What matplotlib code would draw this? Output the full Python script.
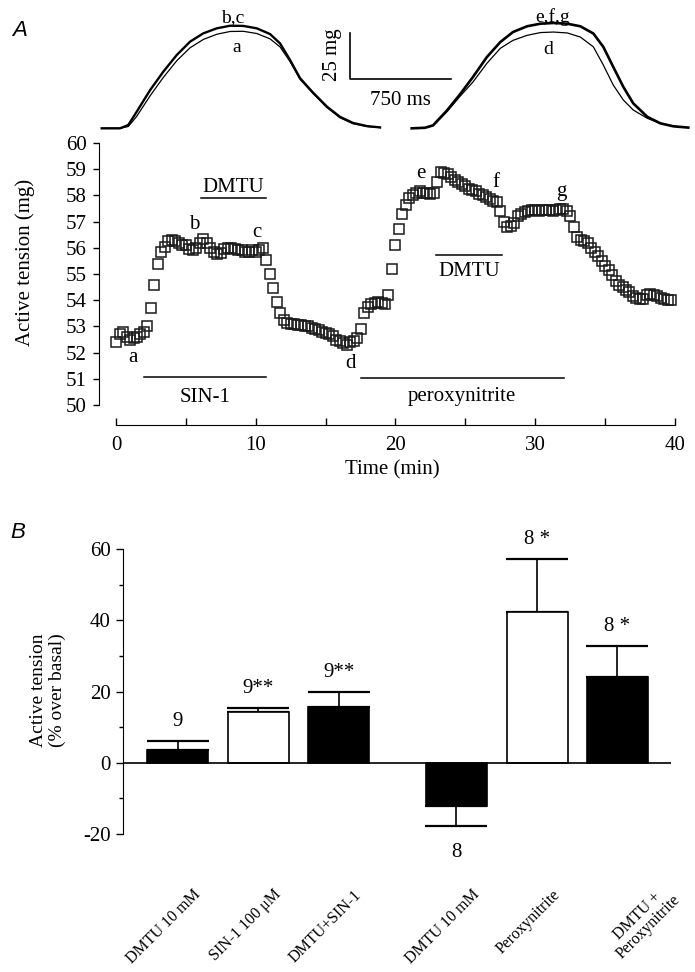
import numpy as np
import matplotlib.pyplot as plt

plt.rcParams['font.family'] = ['Liberation Serif', 'DejaVu Serif']
plt.rcParams['axes.unicode_minus'] = False

# ---- panel A, top: twitch traces (ms, mg) ----
left_t = [0, 136, 198, 261, 360, 459, 559, 658, 757, 857, 956, 1055, 1155,
          1254, 1328, 1403, 1477, 1574, 1678, 1775, 1872, 1976, 2073]
trace_bc = [0, 0, 1.8, 9.0, 20.6, 30.6, 39.6, 46.8, 51.3, 54.0, 55.4, 55.3, 54.0,
            50.9, 45.9, 36.9, 27.1, 19.3, 11.7, 6.2, 2.9, 1.2, 0.5]
trace_a = [0, 0, 1.0, 6.5, 17.5, 27.5, 36.5, 43.5, 48.0, 50.8, 52.3, 52.4, 51.2,
           48.3, 44.0, 36.0, 26.5, 18.8, 11.2, 5.7, 2.5, 1.0, 0.4]
right_t = [0, 99, 159, 263, 360, 456, 560, 660, 754, 859, 958, 1055, 1159,
           1256, 1353, 1427, 1501, 1576, 1650, 1755, 1852, 1948, 2060]
trace_efg = [0, 0.3, 1.6, 9.7, 18.4, 27.7, 38.5, 46.6, 52.0, 55.1, 56.5, 56.9, 56.5,
             55.1, 51.2, 44.0, 33.2, 22.4, 13.5, 6.2, 2.7, 1.1, 0.4]
trace_d = [0, 0.3, 1.4, 9.0, 17.3, 25.0, 35.1, 43.2, 47.5, 50.2, 51.7, 52.0, 51.5,
           49.3, 44.0, 34.2, 23.4, 15.3, 9.9, 5.4, 2.7, 1.1, 0.4]

# ---- panel A: active tension time course ----
time_min = np.arange(0, 40, 0.25)
tension_mg = [
    52.4, 52.7, 52.8, 52.6, 52.5, 52.55, 52.6, 52.7,
    52.8, 53.0, 53.7, 54.6, 55.4, 55.85, 56.05, 56.25,
    56.3, 56.25, 56.2, 56.1, 56.1, 55.95, 55.9, 56.0,
    56.2, 56.35, 56.2, 56.0, 55.85, 55.75, 55.8, 55.95,
    56.0, 56.0, 55.95, 55.9, 55.9, 55.85, 55.85, 55.9,
    55.85, 55.9, 56.0, 55.55, 55.0, 54.45, 53.95, 53.5,
    53.25, 53.15, 53.1, 53.1, 53.05, 53.05, 53.0, 53.0,
    52.95, 52.9, 52.85, 52.8, 52.75, 52.7, 52.65, 52.5,
    52.45, 52.35, 52.3, 52.4, 52.45, 52.55, 52.9, 53.5,
    53.75, 53.85, 53.9, 53.95, 53.9, 53.85, 54.2, 55.2,
    56.1, 56.7, 57.3, 57.65, 57.9, 58.0, 58.1, 58.15,
    58.1, 58.1, 58.05, 58.1, 58.5, 58.9, 58.85, 58.8,
    58.7, 58.6, 58.5, 58.45, 58.35, 58.25, 58.2, 58.15,
    58.05, 58.0, 57.95, 57.85, 57.8, 57.75, 57.4, 57.0,
    56.8, 56.85, 56.95, 57.2, 57.3, 57.35, 57.4, 57.45,
    57.45, 57.4, 57.45, 57.45, 57.45, 57.4, 57.45, 57.5,
    57.5, 57.4, 57.2, 56.8, 56.4, 56.3, 56.25, 56.2,
    56.0, 55.85, 55.7, 55.5, 55.3, 55.15, 54.95, 54.75,
    54.6, 54.5, 54.4, 54.3, 54.15, 54.1, 54.05, 54.05,
    54.2, 54.25, 54.2, 54.15, 54.1, 54.05, 54.0, 54.0,
]
point_labels = ['a', 'b', 'c', 'd', 'e', 'f', 'g']
point_t = [1.2, 5.6, 10.1, 16.8, 21.8, 27.2, 31.9]
point_y = [51.8, 56.9, 56.6, 51.6, 58.85, 58.5, 58.15]
# drug application bars: (label, start, end, line level, label level)
drugs = [('DMTU', 6.07, 10.7, 57.9, 58.3),
         ('SIN-1', 2.0, 10.7, 51.06, 50.3),
         ('peroxynitrite', 17.5, 32.05, 51.02, 50.32),
         ('DMTU', 22.9, 27.6, 55.73, 55.1)]

# ---- panel B: summary bars ----
groups = ['DMTU 10 mM', 'SIN-1 100 μM', 'DMTU+SIN-1',
          'DMTU 10 mM', 'Peroxynitrite', 'DMTU +\nPeroxynitrite']
means = np.array([3.6, 14.3, 15.7, -12.1, 42.3, 24.1])
sem = np.array([2.6, 1.1, 4.2, 5.6, 14.9, 8.7])
n_labels = ['9', '9**', '9**', '8', '8 *', '8 *']
filled = [True, False, True, True, False, True]
bar_x = [0, 1, 2, 3.46, 4.47, 5.46]

W, H = 695, 972
fig = plt.figure(figsize=(W / 100, H / 100), dpi=100)


def fx(px):
    return px / W


def fy(py):
    return 1 - py / H


# traces
axT = fig.add_axes([0, fy(140), 1, 140 / H])
axT.axis('off')
axT.set_xlim(-757.5, 4419)
axT.set_ylim(-6.3, 69.3)
shift = 2309
axT.plot(left_t, trace_a, color='black', lw=0.9)
axT.plot(left_t, trace_bc, color='black', lw=1.7)
axT.plot(np.array(right_t) + shift, trace_d, color='black', lw=0.9)
axT.plot(np.array(right_t) + shift, trace_efg, color='black', lw=1.9)
axT.plot([1849, 1849, 2599], [51.6, 26.6, 26.6], color='black', lw=1.2)
axT.text(1720, 39.5, '25 mg', rotation=90, ha='center', va='center', fontsize=15)
axT.text(2224, 15, '750 ms', ha='center', va='center', fontsize=15)
axT.text(978, 59.6, 'b,c', ha='center', va='center', fontsize=14)
axT.text(1008, 43.4, 'a', ha='center', va='center', fontsize=14)
axT.text(3361, 60.1, 'e,f,g', ha='center', va='center', fontsize=14)
axT.text(3324, 42.8, 'd', ha='center', va='center', fontsize=14)

# time course
axA = fig.add_axes([fx(99), fy(425), fx(677) - fx(99), fy(143) - fy(425)])
axA.plot(time_min, tension_mg, 's', ms=6.5, mfc='none', mec='#1a1a1a', mew=1.1)
axA.set_xlim(-1.22, 40.15)
axA.set_ylim(49.24, 60)
for side in ['top', 'right']:
    axA.spines[side].set_visible(False)
axA.spines['left'].set_bounds(50, 60)
axA.spines['bottom'].set_bounds(0, 40)
axA.set_yticks(range(50, 61))
axA.set_xticks(range(0, 41, 5))
axA.set_xticklabels([str(v) if v % 10 == 0 else '' for v in range(0, 41, 5)])
axA.tick_params(axis='y', direction='out', length=4, width=1, pad=5, labelsize=15)
axA.tick_params(axis='x', direction='in', length=5, width=1, pad=8, labelsize=15)
for lab, t, y in zip(point_labels, point_t, point_y):
    axA.text(t, y, lab, ha='center', va='center', fontsize=15)
for name, t0, t1, yl, yt in drugs:
    axA.plot([t0, t1], [yl, yl], color='black', lw=1.1)
    axA.text((t0 + t1) / 2, yt, name, ha='center', va='center', fontsize=15)

fig.text(fx(25), fy(262), 'Active tension (mg)', rotation=90,
         ha='center', va='center', fontsize=15)
fig.text(fx(392), fy(470), 'Time (min)', ha='center', va='center', fontsize=15)

# summary bars
axB = fig.add_axes([fx(123), fy(834), fx(671) - fx(123), fy(549) - fy(834)])
axB.bar(bar_x, means, width=0.76, color=['black' if f else 'white' for f in filled],
        edgecolor='black', linewidth=1.2, zorder=2)
err_low = np.where(means < 0, sem, 0)
err_high = np.where(means < 0, 0, sem)
axB.errorbar(bar_x, means, yerr=[err_low, err_high], fmt='none', ecolor='black',
             elinewidth=1.2, capsize=22, capthick=1.6, zorder=1)
axB.axhline(0, color='black', lw=1.2, zorder=3)
axB.set_xlim(-0.68, 6.13)
axB.set_ylim(-20, 60)
for side in ['top', 'right', 'bottom']:
    axB.spines[side].set_visible(False)
axB.set_yticks([-20, 0, 20, 40, 60])
axB.set_yticks([-10, 10, 30, 50], minor=True)
axB.set_xticks([])
axB.tick_params(axis='y', which='major', direction='out', length=5, width=1,
                pad=4, labelsize=15)
axB.tick_params(axis='y', which='minor', direction='out', length=3, width=1)

for x, m, s, lab in zip(bar_x, means, sem, n_labels):
    if m >= 0:
        axB.annotate(lab, xy=(x, m + s), xytext=(0, 14), textcoords='offset points',
                     ha='center', va='center', fontsize=15)
    else:
        axB.annotate(lab, xy=(x, m - s), xytext=(0, -19), textcoords='offset points',
                     ha='center', va='center', fontsize=15)

for x, lab in zip(bar_x, groups):
    dx = 40 if '\n' in lab else 15
    axB.annotate(lab, xy=(x, 0), xycoords=('data', 'axes fraction'),
                 xytext=(dx, -42), textcoords='offset points',
                 ha='right', va='center', rotation=45, rotation_mode='anchor',
                 multialignment='center', fontsize=11.5, linespacing=0.95)

fig.text(fx(48), fy(690), 'Active tension\n(% over basal)', rotation=90,
         ha='center', va='center', fontsize=14, multialignment='center',
         linespacing=1.1)

fig.text(fx(20), fy(30), 'A', family=['Liberation Sans', 'DejaVu Sans'],
         style='italic', fontsize=16, ha='center', va='center')
fig.text(fx(18), fy(532), 'B', family=['Liberation Sans', 'DejaVu Sans'],
         style='italic', fontsize=16, ha='center', va='center')

fig.savefig('out.png', dpi=100)
